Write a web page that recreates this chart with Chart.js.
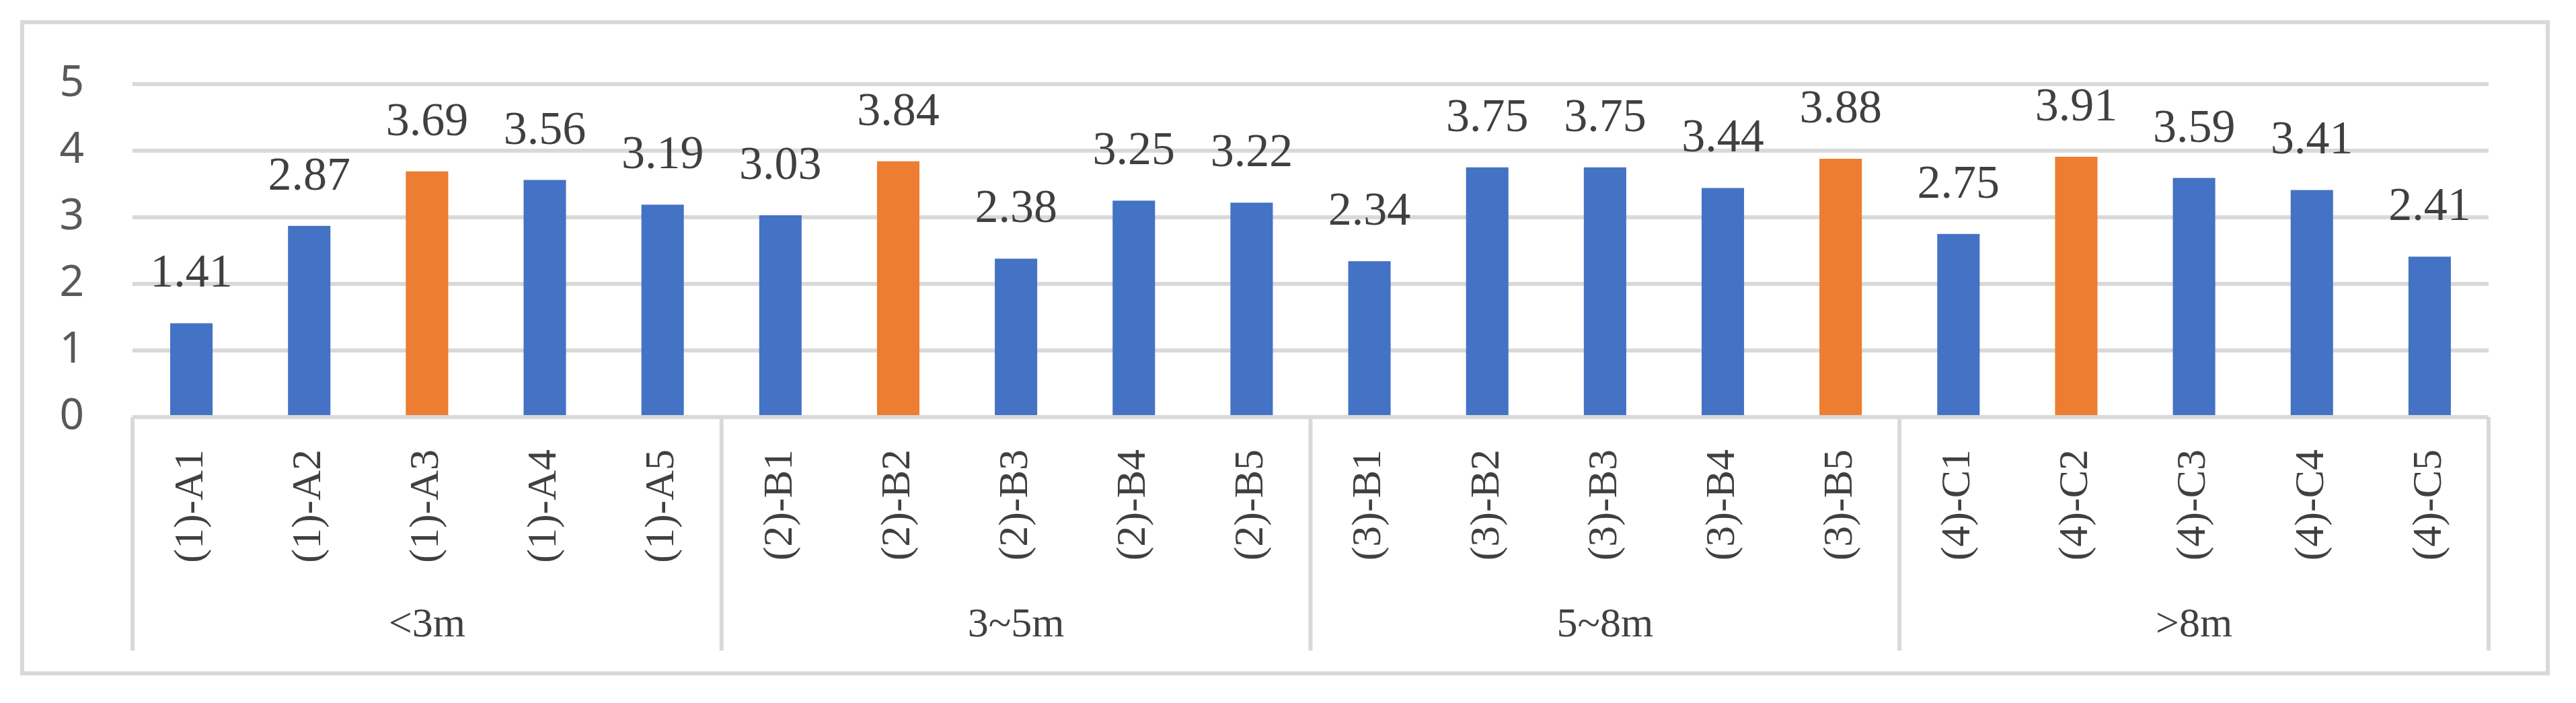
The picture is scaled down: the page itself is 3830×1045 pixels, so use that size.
<!DOCTYPE html>
<html><head><meta charset="utf-8">
<script src="https://cdn.jsdelivr.net/npm/chart.js@4/dist/chart.umd.min.js"></script>
<style>
html,body{margin:0;padding:0;background:#fff;}
#wrap{position:relative;width:3830px;height:1045px;}
#frame{position:absolute;left:30px;top:30px;width:3761px;height:974px;border:6px solid #d9d9d9;box-sizing:border-box;}
canvas{position:absolute;left:0;top:0;}
</style></head>
<body><div id="wrap"><div id="frame"></div><canvas id="c" width="3830" height="1045"></canvas></div>
<script>
const categories = ["(1)-A1","(1)-A2","(1)-A3","(1)-A4","(1)-A5","(2)-B1","(2)-B2","(2)-B3","(2)-B4","(2)-B5","(3)-B1","(3)-B2","(3)-B3","(3)-B4","(3)-B5","(4)-C1","(4)-C2","(4)-C3","(4)-C4","(4)-C5"];
const values = [1.41,2.87,3.69,3.56,3.19,3.03,3.84,2.38,3.25,3.22,2.34,3.75,3.75,3.44,3.88,2.75,3.91,3.59,3.41,2.41];
const highlighted = ["(1)-A3","(2)-B2","(3)-B5","(4)-C2"];
const groups = ["<3m","3~5m","5~8m",">8m"];
const groupSize = [5,5,5,5];
const yTicks = [0,1,2,3,4,5];

const BLUE="#4472C4", ORANGE="#ED7D31", GRID="#d9d9d9";
const colors = categories.map(c => highlighted.includes(c) ? ORANGE : BLUE);

const extras = {
  id:'extras',
  afterDatasetsDraw(chart){
    const ctx=chart.ctx, meta=chart.getDatasetMeta(0), x=chart.scales.x, area=chart.chartArea;
    ctx.save();
    ctx.fillStyle="#404040"; ctx.textAlign="center"; ctx.textBaseline="alphabetic";
    ctx.font='70px "Liberation Serif"';
    meta.data.forEach((b,i)=>{ ctx.fillText(values[i].toFixed(2), b.x, b.y-54); });
    // group separators & labels
    const half=(x.getPixelForValue(1)-x.getPixelForValue(0))/2;
    ctx.strokeStyle=GRID; ctx.lineWidth=6;
    let idx=0;
    const bounds=[x.getPixelForValue(0)-half];
    groupSize.forEach(n=>{ idx+=n; bounds.push(x.getPixelForValue(idx-1)+half); });
    bounds.forEach(bx=>{ ctx.beginPath(); ctx.moveTo(bx,area.bottom); ctx.lineTo(bx,967); ctx.stroke(); });
    ctx.beginPath(); ctx.moveTo(area.left,area.bottom); ctx.lineTo(area.right,area.bottom); ctx.stroke();
    ctx.fillStyle="#404040"; ctx.font='62px "Liberation Serif"'; ctx.textBaseline="middle";
    groups.forEach((g,i)=>{ ctx.fillText(g,(bounds[i]+bounds[i+1])/2,930); });
    ctx.restore();
  }
};

new Chart(document.getElementById('c'),{
  type:'bar',
  data:{labels:categories,datasets:[{data:values,backgroundColor:colors,categoryPercentage:1,barPercentage:0.36}]},
  options:{
    responsive:false,animation:false,devicePixelRatio:1,
    layout:{padding:{left:0,top:125,right:130,bottom:0}},
    plugins:{legend:{display:false},tooltip:{enabled:false}},
    scales:{
      x:{grid:{display:false},border:{display:false},
         ticks:{minRotation:90,maxRotation:90,autoSkip:false,padding:40,color:"#404040",font:{family:"Liberation Serif",size:62}},
         afterFit(s){s.height=425;}},
      y:{min:0,max:5,afterBuildTicks(s){s.ticks=yTicks.map(v=>({value:v}));},
         grid:{color:GRID,lineWidth:6,drawTicks:false},border:{display:false},
         ticks:{padding:72,color:"#595959",font:{family:"Noto Sans",size:64}},
         afterFit(s){s.width=197;}}
    }
  },
  plugins:[extras]
});
</script></body></html>
